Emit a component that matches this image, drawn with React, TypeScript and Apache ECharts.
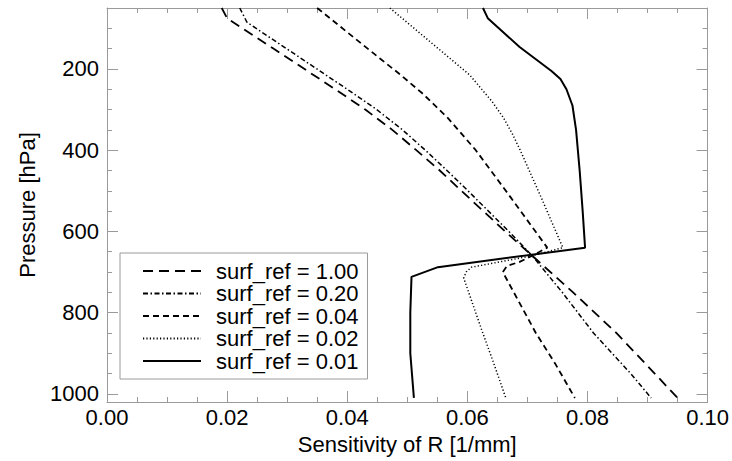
import React, { useEffect, useRef } from "react";
import * as echarts from "echarts";

// Pressure levels [hPa] and sensitivity of R [1/mm] for each surface reflectance
const pres100 = [50, 75, 150, 250, 300, 350, 400, 450, 500, 600, 660, 750, 850, 950, 1010];
const sens100 = [0.0191, 0.0200, 0.0277, 0.0380, 0.0430, 0.0475, 0.0515, 0.0554, 0.0590, 0.0663, 0.0708, 0.0776, 0.0848, 0.0912, 0.0950];

const pres020 = [50, 85, 250, 300, 350, 400, 450, 500, 600, 660, 750, 850, 950, 1010];
const sens020 = [0.0221, 0.0233, 0.0400, 0.0449, 0.0492, 0.0530, 0.0566, 0.0601, 0.0669, 0.0708, 0.0758, 0.0810, 0.0872, 0.0906];

const pres004 = [50, 175, 210, 260, 320, 400, 520, 640, 660, 675, 685, 700, 850, 925, 1010];
const sens004 = [0.0350, 0.0455, 0.0485, 0.0525, 0.0567, 0.0614, 0.0674, 0.0733, 0.0708, 0.0687, 0.0666, 0.0659, 0.0714, 0.0746, 0.0779];

const pres002 = [50, 112, 215, 245, 280, 320, 360, 400, 520, 640, 660, 688, 700, 715, 843, 925, 1010];
const sens002 = [0.0471, 0.0521, 0.0604, 0.0621, 0.0641, 0.0660, 0.0675, 0.0688, 0.0724, 0.0759, 0.0708, 0.0607, 0.0598, 0.0594, 0.0624, 0.0644, 0.0664];

const pres001 = [50, 75, 146, 205, 225, 250, 290, 350, 450, 550, 640, 688, 712, 800, 900, 1010];
const sens001 = [0.0626, 0.0634, 0.0687, 0.0740, 0.0755, 0.0765, 0.0775, 0.0781, 0.0787, 0.0792, 0.0796, 0.0551, 0.0507, 0.0505, 0.0505, 0.0511];

const seriesNames = ["surf_ref = 1.00", "surf_ref = 0.20", "surf_ref = 0.04", "surf_ref = 0.02", "surf_ref = 0.01"];
const seriesPressures = [pres100, pres020, pres004, pres002, pres001];
const seriesValues = [sens100, sens020, sens004, sens002, sens001];
const yMajorTicks = [200, 400, 600, 800, 1000];

const FONT = "Liberation Sans, Arial, Helvetica, sans-serif";
const AXIS_COLOR = "#9a9a9a";

const lineStyles: any[] = [
  { type: [10, 6], width: 1.8 },
  { type: [5, 2.5, 1.5, 2.5], width: 1.5 },
  { type: [6, 4], width: 1.8 },
  { type: [1.2, 2.2], width: 1.5 },
  { type: "solid", width: 2 },
];

export default function App() {
  const ref = useRef<HTMLDivElement>(null);
  useEffect(() => {
    if (!ref.current) return;
    const chart = echarts.init(ref.current, undefined, { renderer: "svg" });
    const yBase = {
      type: "value",
      inverse: true,
      min: 50,
      max: 1020,
      splitLine: { show: false },
    };
    const option: any = {
      animation: false,
      backgroundColor: "#ffffff",
      grid: { left: 107, right: 24, top: 8, bottom: 59, containLabel: false },
      legend: {
        orient: "vertical",
        left: 120,
        top: 253,
        backgroundColor: "#ffffff",
        borderColor: AXIS_COLOR,
        borderWidth: 1,
        borderRadius: 0,
        padding: [7, 9, 7, 22],
        itemWidth: 58,
        itemHeight: 14,
        itemGap: 0.5,
        itemStyle: { opacity: 0 },
        textStyle: { fontSize: 22, color: "#000", fontFamily: FONT, lineHeight: 22, padding: [0, 0, 0, 10] },
        data: seriesNames,
      },
      xAxis: [
        {
          type: "value",
          position: "bottom",
          min: 0,
          max: 0.1,
          interval: 0.02,
          axisLine: { show: true, lineStyle: { color: AXIS_COLOR, width: 1 } },
          axisTick: { show: true, inside: true, length: 11, lineStyle: { color: AXIS_COLOR } },
          minorTick: { show: true, splitNumber: 4, length: 5, lineStyle: { color: AXIS_COLOR } },
          axisLabel: { fontSize: 22, color: "#000", fontFamily: FONT, margin: 4, formatter: (v: number) => v.toFixed(2) },
          splitLine: { show: false },
          name: "Sensitivity of R [1/mm]",
          nameLocation: "middle",
          nameGap: 31,
          nameTextStyle: { fontSize: 22, color: "#000", fontFamily: FONT },
        },
        {
          type: "value",
          position: "top",
          min: 0,
          max: 0.1,
          interval: 0.02,
          axisLine: { show: true, lineStyle: { color: AXIS_COLOR, width: 1 } },
          axisTick: { show: true, inside: true, length: 11, lineStyle: { color: AXIS_COLOR } },
          minorTick: { show: true, splitNumber: 4, length: 5, lineStyle: { color: AXIS_COLOR } },
          axisLabel: { show: false },
          splitLine: { show: false },
        },
      ],
      yAxis: [
        {
          ...yBase,
          position: "left",
          axisLine: { show: true, lineStyle: { color: AXIS_COLOR, width: 1 } },
          axisTick: { show: true, inside: true, length: 11, lineStyle: { color: AXIS_COLOR }, customValues: yMajorTicks },
          axisLabel: {
            fontSize: 22,
            color: "#000",
            fontFamily: FONT,
            margin: 8,
            customValues: yMajorTicks,
            formatter: (v: number) => String(v),
          },
          name: "Pressure [hPa]",
          nameLocation: "middle",
          nameGap: 69,
          nameTextStyle: { fontSize: 22, color: "#000", fontFamily: FONT },
        },
        {
          ...yBase,
          position: "left",
          interval: 50,
          axisLine: { show: false },
          axisTick: { show: true, inside: true, length: 5, lineStyle: { color: AXIS_COLOR } },
          axisLabel: { show: false },
        },
        {
          ...yBase,
          position: "right",
          axisLine: { show: true, lineStyle: { color: AXIS_COLOR, width: 1 } },
          axisTick: { show: true, inside: true, length: 11, lineStyle: { color: AXIS_COLOR }, customValues: yMajorTicks },
          axisLabel: { show: false, customValues: yMajorTicks },
        },
        {
          ...yBase,
          position: "right",
          interval: 50,
          axisLine: { show: false },
          axisTick: { show: true, inside: true, length: 5, lineStyle: { color: AXIS_COLOR } },
          axisLabel: { show: false },
        },
      ],
      series: seriesNames.map((name, i) => ({
        name,
        type: "line",
        xAxisIndex: 0,
        yAxisIndex: 0,
        symbol: "none",
        showSymbol: false,
        smooth: false,
        color: "#000",
        lineStyle: { color: "#000", ...lineStyles[i] },
        data: seriesValues[i].map((v, k) => [v, seriesPressures[i][k]]),
      })),
    };
    chart.setOption(option);
    return () => chart.dispose();
  }, []);
  return (
    <div
      ref={ref}
      style={{ position: "absolute", left: 0, top: 0, width: 732, height: 461, background: "#fff" }}
    />
  );
}
